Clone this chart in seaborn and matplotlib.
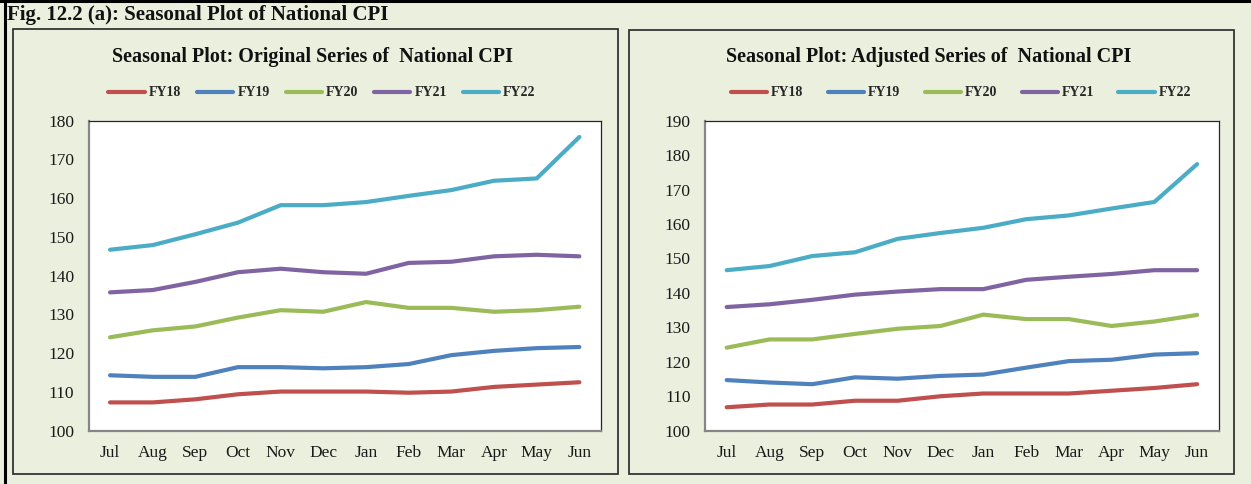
"""
Seasonal plot of National CPI (original vs adjusted series), FY18-FY22
"""

import matplotlib
matplotlib.use("Agg")
import matplotlib.pyplot as plt
from matplotlib.patches import Rectangle
from matplotlib.lines import Line2D
from matplotlib.ticker import FixedLocator
import pandas as pd
import seaborn as sns

# ---- data ----
months = ['Jul', 'Aug', 'Sep', 'Oct', 'Nov', 'Dec', 'Jan', 'Feb', 'Mar', 'Apr', 'May', 'Jun']
years = ['FY18', 'FY19', 'FY20', 'FY21', 'FY22']

orig_fy18 = [107.3, 107.3, 108.1, 109.4, 110.1, 110.1, 110.1, 109.8, 110.1, 111.3, 111.9, 112.5]
orig_fy19 = [114.3, 113.9, 113.9, 116.4, 116.4, 116.1, 116.4, 117.2, 119.5, 120.6, 121.3, 121.6]
orig_fy20 = [124.1, 125.9, 126.9, 129.2, 131.1, 130.7, 133.2, 131.7, 131.7, 130.7, 131.1, 132.0]
orig_fy21 = [135.7, 136.3, 138.4, 140.9, 141.8, 140.9, 140.5, 143.3, 143.6, 145.0, 145.4, 145.0]
orig_fy22 = [146.7, 147.9, 150.7, 153.7, 158.2, 158.2, 159.0, 160.6, 162.1, 164.5, 165.1, 175.8]

adj_fy18 = [106.8, 107.6, 107.6, 108.7, 108.7, 110.0, 110.8, 110.8, 110.8, 111.6, 112.4, 113.5]
adj_fy19 = [114.7, 114.0, 113.5, 115.5, 115.1, 115.9, 116.3, 118.3, 120.2, 120.6, 122.1, 122.5]
adj_fy20 = [124.1, 126.5, 126.5, 128.1, 129.6, 130.4, 133.7, 132.4, 132.4, 130.4, 131.7, 133.6]
adj_fy21 = [135.9, 136.7, 138.0, 139.5, 140.4, 141.1, 141.1, 143.8, 144.7, 145.5, 146.6, 146.6]
adj_fy22 = [146.6, 147.8, 150.7, 151.8, 155.7, 157.4, 158.9, 161.4, 162.5, 164.5, 166.4, 177.4]

colors = ['#C0504D', '#4F81BD', '#9BBB59', '#8064A2', '#4BACC6']
BG = '#EBEFDE'
W, H = 1251, 484


def fx(px):
    return px / W


def fy(py):
    return 1 - py / H


def to_long(series_list):
    """Stack per-year lists into a long dataframe for seaborn"""
    rows = []
    for year, vals in zip(years, series_list):
        for i, v in enumerate(vals):
            rows.append({'pos': i, 'month': months[i], 'year': year, 'value': v})
    return pd.DataFrame(rows)


def draw_panel(fig, df, box, ylim, title, title_x, legend_x, colspace):
    left, right, top, bottom = box
    ax = fig.add_axes([fx(left), fy(bottom), fx(right) - fx(left), fy(top) - fy(bottom)])
    ax.set_facecolor('white')

    sns.lineplot(data=df, x='pos', y='value', hue='year', palette=colors,
                 linewidth=3.0, solid_capstyle='round', legend=False, ax=ax)

    ax.set_xlim(-0.5, 11.5)
    ax.set_ylim(*ylim)
    ax.set_yticks(range(ylim[0], ylim[1] + 1, 10))
    ax.set_xticks(range(12))
    ax.set_xticklabels(months)
    ax.xaxis.set_minor_locator(FixedLocator([i - 0.5 for i in range(13)]))
    ax.set_xlabel('')
    ax.set_ylabel('')
    ax.grid(False)

    ax.tick_params(axis='x', which='major', length=0, pad=10, labelsize=12.5, labelcolor='#1a1a1a')
    ax.tick_params(axis='x', which='minor', direction='out', length=4.5, width=1.1, color='#868686')
    ax.tick_params(axis='y', direction='out', length=4.5, width=1.1, color='#868686',
                   pad=6, labelsize=12.5, labelcolor='#1a1a1a')

    for side in ['left', 'bottom']:
        ax.spines[side].set_color('#868686')
        ax.spines[side].set_linewidth(1.6)
    for side in ['top', 'right']:
        ax.spines[side].set_color('#262626')
        ax.spines[side].set_linewidth(0.9)

    fig.text(fx(title_x), fy(57), title, ha='center', va='center',
             fontsize=14.5, fontweight='bold', color='#111111')

    handles = ax.get_lines()[:len(years)]
    ax.legend(handles, years, loc='center', bbox_to_anchor=(fx(legend_x), fy(93)),
              bbox_transform=fig.transFigure, ncol=5, frameon=False,
              handlelength=2.6, handletextpad=0.3, columnspacing=colspace,
              prop={'weight': 'bold', 'size': 10})
    return ax


def main():
    sns.set_theme(style='white')
    plt.rcParams['font.family'] = ['Liberation Serif', 'DejaVu Serif']

    fig = plt.figure(figsize=(W / 100, H / 100), dpi=100)
    fig.patch.set_facecolor(BG)

    # panel frames
    fig.add_artist(Rectangle((fx(13), fy(474)), fx(618) - fx(13), fy(29) - fy(474),
                             transform=fig.transFigure, fill=False,
                             edgecolor='#262626', linewidth=1.2))
    fig.add_artist(Rectangle((fx(629), fy(474)), fx(1234) - fx(629), fy(30) - fy(474),
                             transform=fig.transFigure, fill=False,
                             edgecolor='#262626', linewidth=1.2))
    # outer black border (top and left)
    fig.add_artist(Line2D([0, 1], [fy(1.3), fy(1.3)], transform=fig.transFigure,
                          color='black', linewidth=2.2))
    fig.add_artist(Line2D([fx(5), fx(5)], [0, 1], transform=fig.transFigure,
                          color='black', linewidth=2.2))

    fig.text(fx(7), fy(15), 'Fig. 12.2 (a): Seasonal Plot of National CPI',
             ha='left', va='center', fontsize=15, fontweight='bold', color='#111111')

    df_orig = to_long([orig_fy18, orig_fy19, orig_fy20, orig_fy21, orig_fy22])
    df_adj = to_long([adj_fy18, adj_fy19, adj_fy20, adj_fy21, adj_fy22])

    draw_panel(fig, df_orig, (88.7, 600.7, 120.7, 430.7), (100, 180),
               'Seasonal Plot: Original Series of  National CPI', 312.5, 322, 1.15)
    draw_panel(fig, df_adj, (705.3, 1218.5, 120.7, 430.7), (100, 190),
               'Seasonal Plot: Adjusted Series of  National CPI', 928.7, 961, 1.75)

    fig.savefig('out.png', dpi=100, facecolor=BG)
    print("Saved out.png")


if __name__ == "__main__":
    main()
